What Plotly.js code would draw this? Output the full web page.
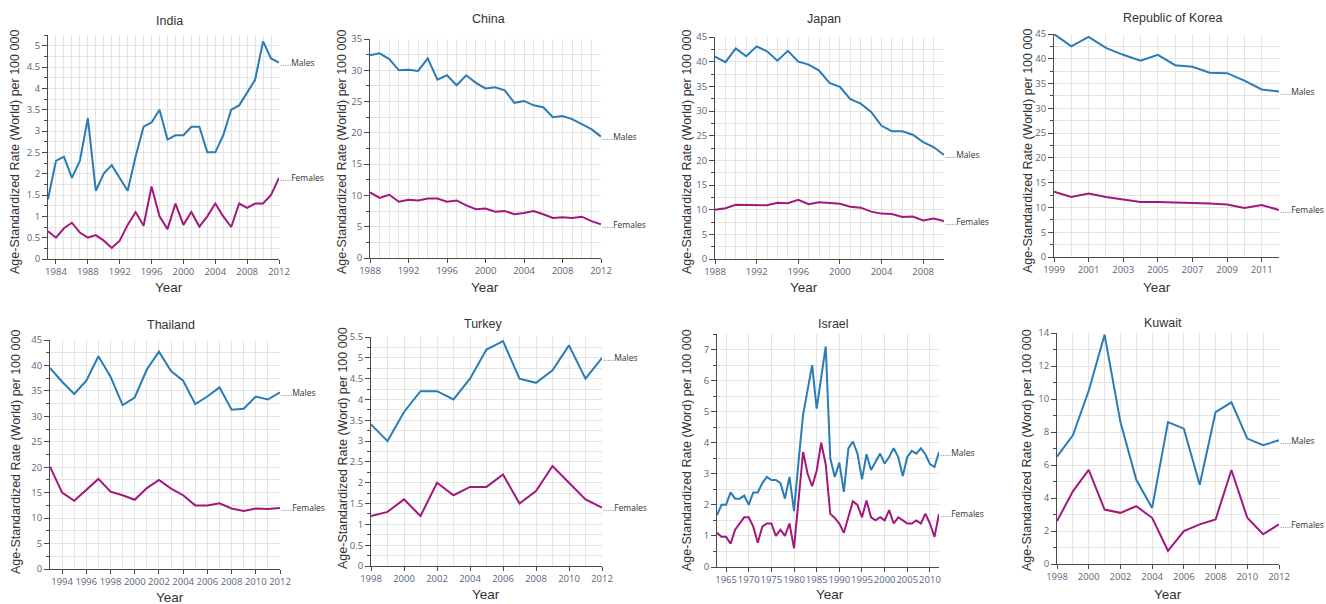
<!DOCTYPE html>
<html><head><meta charset="utf-8">
<script src="https://cdn.plot.ly/plotly-3.0.1.min.js"></script>
<style>html,body{margin:0;padding:0;background:#fff}#chart{width:1326px;height:604px}</style>
</head><body><div id="chart"></div>
<script>
// ---------------- DATA ----------------
const countries = ["India", "China", "Japan", "Republic of Korea", "Thailand", "Turkey", "Israel", "Kuwait"];
const seriesNames = ["Males", "Females"];

const indiaYears = [1983,1984,1985,1986,1987,1988,1989,1990,1991,1992,1993,1994,1995,1996,1997,1998,1999,2000,2001,2002,2003,2004,2005,2006,2007,2008,2009,2010,2011,2012];
const indiaMales = [1.4,2.3,2.4,1.9,2.3,3.3,1.6,2.0,2.2,1.9,1.6,2.4,3.1,3.2,3.5,2.8,2.9,2.9,3.1,3.1,2.5,2.5,2.9,3.5,3.6,3.9,4.2,5.1,4.7,4.6];
const indiaFemales = [0.65,0.5,0.72,0.85,0.62,0.5,0.56,0.43,0.26,0.43,0.8,1.1,0.78,1.7,1.0,0.7,1.3,0.8,1.1,0.76,1.0,1.3,1.0,0.75,1.3,1.2,1.3,1.3,1.5,1.9];

const chinaYears = [1988,1989,1990,1991,1992,1993,1994,1995,1996,1997,1998,1999,2000,2001,2002,2003,2004,2005,2006,2007,2008,2009,2010,2011,2012];
const chinaMales = [32.4,32.7,31.8,30.0,30.1,29.9,31.9,28.5,29.2,27.6,29.2,28.0,27.1,27.3,26.8,24.8,25.1,24.4,24.1,22.5,22.7,22.2,21.4,20.6,19.4];
const chinaFemales = [10.5,9.6,10.1,9.0,9.3,9.2,9.5,9.5,9.0,9.2,8.4,7.8,7.9,7.4,7.5,7.0,7.2,7.5,7.0,6.4,6.5,6.4,6.6,5.9,5.4];

const japanYears = [1988,1989,1990,1991,1992,1993,1994,1995,1996,1997,1998,1999,2000,2001,2002,2003,2004,2005,2006,2007,2008,2009,2010];
const japanMales = [41.0,39.9,42.7,41.1,43.1,42.1,40.2,42.2,40.0,39.4,38.2,35.7,34.9,32.4,31.5,29.8,27.0,25.9,25.9,25.2,23.7,22.7,21.1];
const japanFemales = [10.0,10.3,11.0,11.0,11.0,10.9,11.4,11.3,12.0,11.1,11.5,11.4,11.2,10.6,10.4,9.6,9.2,9.1,8.5,8.6,7.8,8.2,7.7];

const koreaYears = [1999,2000,2001,2002,2003,2004,2005,2006,2007,2008,2009,2010,2011,2012];
const koreaMales = [45.0,42.5,44.4,42.2,40.8,39.6,40.8,38.7,38.4,37.2,37.1,35.6,33.8,33.4];
const koreaFemales = [13.2,12.1,12.8,12.1,11.6,11.1,11.1,11.0,11.0,10.8,10.6,9.9,10.5,9.5];

const thailandYears = [1993,1994,1995,1996,1997,1998,1999,2000,2001,2002,2003,2004,2005,2006,2007,2008,2009,2010,2011,2012];
const thailandMales = [39.5,36.8,34.4,37.0,41.8,37.8,32.2,33.7,39.2,42.7,38.9,37.0,32.4,33.9,35.7,31.3,31.5,33.9,33.3,34.7];
const thailandFemales = [20.1,15.0,13.4,15.6,17.7,15.2,14.5,13.6,15.9,17.5,15.8,14.5,12.5,12.5,12.9,11.9,11.4,11.9,11.8,12.0];

const turkeyYears = [1998,1999,2000,2001,2002,2003,2004,2005,2006,2007,2008,2009,2010,2011,2012];
const turkeyMales = [3.4,3.0,3.7,4.2,4.2,4.0,4.5,5.2,5.4,4.5,4.4,4.7,5.3,4.5,5.0];
const turkeyFemales = [1.2,1.3,1.6,1.2,2.0,1.7,1.9,1.9,2.2,1.5,1.8,2.4,2.0,1.6,1.4];

const israelYears = [1963,1964,1965,1966,1967,1968,1969,1970,1971,1972,1973,1974,1975,1976,1977,1978,1979,1980,1981,1982,1983,1984,1985,1986,1987,1988,1989,1990,1991,1992,1993,1994,1995,1996,1997,1998,1999,2000,2001,2002,2003,2004,2005,2006,2007,2008,2009,2010,2011,2012];
const israelMales = [1.67,2.0,2.0,2.4,2.2,2.2,2.3,2.0,2.4,2.4,2.7,2.9,2.8,2.8,2.7,2.2,2.9,1.8,3.4,4.9,5.7,6.5,5.1,6.05,7.1,3.5,2.9,3.36,2.42,3.82,4.04,3.65,2.82,3.63,3.12,3.39,3.65,3.33,3.54,3.82,3.54,2.93,3.54,3.74,3.65,3.82,3.63,3.31,3.22,3.7];
const israelFemales = [1.1,0.97,0.97,0.75,1.2,1.4,1.6,1.6,1.3,0.78,1.3,1.4,1.4,1.0,1.2,1.0,1.4,0.6,2.2,3.7,3.0,2.6,3.1,4.0,3.3,1.71,1.58,1.4,1.1,1.6,2.12,2.0,1.6,2.14,1.6,1.5,1.6,1.5,1.83,1.4,1.6,1.5,1.4,1.4,1.5,1.4,1.72,1.4,0.97,1.71];

const kuwaitYears = [1998,1999,2000,2001,2002,2003,2004,2005,2006,2007,2008,2009,2010,2011,2012];
const kuwaitMales = [6.5,7.8,10.5,13.9,8.6,5.1,3.4,8.6,8.2,4.8,9.2,9.8,7.6,7.2,7.5];
const kuwaitFemales = [2.6,4.4,5.7,3.3,3.1,3.5,2.8,0.8,2.0,2.4,2.7,5.7,2.8,1.8,2.4];

const yTitleWorld = "Age-Standardized Rate (World) per 100 000";
const yTitleWord = "Age-Standardized Rate (Word) per 100 000";
const xTitle = "Year";

// ---------------- LAYOUT / STYLE ----------------
const W = 1326, H = 604;
const colors = ["#2a7cb6", "#a2187c"];
const gridColor = "#e4e4e4";
const axisColor = "#4a4a4a";
const tickFont = {family: "Open Sans, sans-serif", size: 9.5, color: "#56667a"};
const titleFont = {family: "Liberation Sans, Arial, sans-serif", size: 12.5, color: "#333"};

const panels = [
  {years: indiaYears, m: indiaMales, f: indiaFemales, px: [48, 279], py: [35, 259], yr: [0, 5.25], yd: 0.5, ym: 0.25, xt0: 1984, xd: 4, xm: 1, xr: [1983, 2012], tpos: [169, 21], ytpos: [15, 152], yrpos: [169, 287], yt: yTitleWorld},
  {years: chinaYears, m: chinaMales, f: chinaFemales, px: [370, 601], py: [39, 258], yr: [0, 35], yd: 5, ym: 2.5, xt0: 1988, xd: 4, xm: 1, xr: [1988, 2012], tpos: [488, 19], ytpos: [342, 152], yrpos: [485, 287], yt: yTitleWorld},
  {years: japanYears, m: japanMales, f: japanFemales, px: [715, 944], py: [37, 259], yr: [0, 45], yd: 5, ym: 2.5, xt0: 1988, xd: 4, xm: 1, xr: [1988, 2010], tpos: [824, 19], ytpos: [687, 152], yrpos: [804, 287], yt: yTitleWorld},
  {years: koreaYears, m: koreaMales, f: koreaFemales, px: [1054, 1279], py: [34, 257], yr: [0, 45], yd: 5, ym: 2.5, xt0: 1999, xd: 2, xm: 1, xr: [1999, 2012], tpos: [1172, 18], ytpos: [1028, 151], yrpos: [1157, 287], yt: yTitleWorld},
  {years: thailandYears, m: thailandMales, f: thailandFemales, px: [50, 280], py: [340, 569], yr: [0, 45], yd: 5, ym: 2.5, xt0: 1994, xd: 2, xm: 1, xr: [1993, 2012], tpos: [171, 325], ytpos: [16, 452], yrpos: [170, 597], yt: yTitleWorld},
  {years: turkeyYears, m: turkeyMales, f: turkeyFemales, px: [371, 602], py: [337, 566], yr: [0, 5.5], yd: 0.5, ym: 0.25, xt0: 1998, xd: 2, xm: 1, xr: [1998, 2012], tpos: [483, 324], ytpos: [343, 448], yrpos: [486, 594], yt: yTitleWord},
  {years: israelYears, m: israelMales, f: israelFemales, px: [717, 939], py: [334, 567], yr: [0, 7.5], yd: 1, ym: 0.5, xt0: 1965, xd: 5, xm: null, xr: [1963, 2012], tpos: [833, 324], ytpos: [687, 450], yrpos: [830, 594], yt: yTitleWord},
  {years: kuwaitYears, m: kuwaitMales, f: kuwaitFemales, px: [1057, 1279], py: [333, 564], yr: [0, 14], yd: 2, ym: 1, xt0: 1998, xd: 2, xm: 1, xr: [1998, 2012], tpos: [1163, 323], ytpos: [1027, 450], yrpos: [1168, 594], yt: yTitleWord}
];

const traces = [];
const layout = {
  width: W, height: H,
  margin: {l: 0, r: 0, t: 0, b: 0},
  paper_bgcolor: "#fff", plot_bgcolor: "#fff",
  showlegend: false,
  annotations: [],
  font: {family: "Open Sans, sans-serif"}
};

panels.forEach((p, i) => {
  const n = i + 1;
  const xa = "x" + (n === 1 ? "" : n), ya = "y" + (n === 1 ? "" : n);
  const xk = "xaxis" + (n === 1 ? "" : n), yk = "yaxis" + (n === 1 ? "" : n);
  [p.m, p.f].forEach((vals, s) => {
    traces.push({
      type: "scatter", mode: "lines", x: p.years, y: vals, xaxis: xa, yaxis: ya,
      name: seriesNames[s], line: {color: colors[s], width: 2}, hoverinfo: "x+y+name"
    });
    layout.annotations.push({
      xref: xa, yref: ya, x: p.years[p.years.length - 1], y: vals[vals.length - 1],
      text: '<span style="color:#777">.....</span>' + seriesNames[s], showarrow: false,
      xanchor: "left", yanchor: "middle", xshift: -1,
      font: {family: "Open Sans, sans-serif", size: 8.5, color: "#333"}
    });
  });
  const xaxis = {
    domain: [p.px[0] / W, p.px[1] / W], anchor: ya, range: p.xr,
    tick0: p.xt0, dtick: p.xd, tickmode: "linear", tickangle: 0,
    showgrid: true, gridcolor: gridColor, gridwidth: 1,
    showline: true, linecolor: axisColor, linewidth: 1,
    ticks: "outside", ticklen: 4, tickcolor: axisColor,
    tickfont: tickFont, zeroline: false, fixedrange: true
  };
  if (p.xm) xaxis.minor = {dtick: p.xm, showgrid: true, gridcolor: gridColor, ticks: ""};
  const yaxis = {
    domain: [1 - p.py[1] / H, 1 - p.py[0] / H], anchor: xa, range: p.yr,
    tick0: 0, dtick: p.yd, tickmode: "linear",
    showgrid: true, gridcolor: gridColor, gridwidth: 1,
    showline: true, linecolor: axisColor, linewidth: 1,
    ticks: "outside", ticklen: 5, tickcolor: axisColor,
    tickfont: tickFont, zeroline: false, fixedrange: true,
    minor: {dtick: p.ym, showgrid: true, gridcolor: gridColor, ticks: "outside", ticklen: 3, tickcolor: axisColor}
  };
  layout[xk] = xaxis; layout[yk] = yaxis;
  layout.annotations.push({xref: "paper", yref: "paper", x: p.tpos[0] / W, y: 1 - p.tpos[1] / H,
    text: countries[i], showarrow: false, xanchor: "center", yanchor: "middle", font: titleFont});
  layout.annotations.push({xref: "paper", yref: "paper", x: p.ytpos[0] / W, y: 1 - p.ytpos[1] / H,
    text: p.yt, showarrow: false, textangle: -90, xanchor: "center", yanchor: "middle", font: titleFont});
  layout.annotations.push({xref: "paper", yref: "paper", x: p.yrpos[0] / W, y: 1 - p.yrpos[1] / H,
    text: xTitle, showarrow: false, xanchor: "center", yanchor: "middle",
    font: {family: titleFont.family, size: 13.5, color: "#333"}});
});

Plotly.newPlot("chart", traces, layout, {displayModeBar: false, staticPlot: false});
</script>
</body></html>
